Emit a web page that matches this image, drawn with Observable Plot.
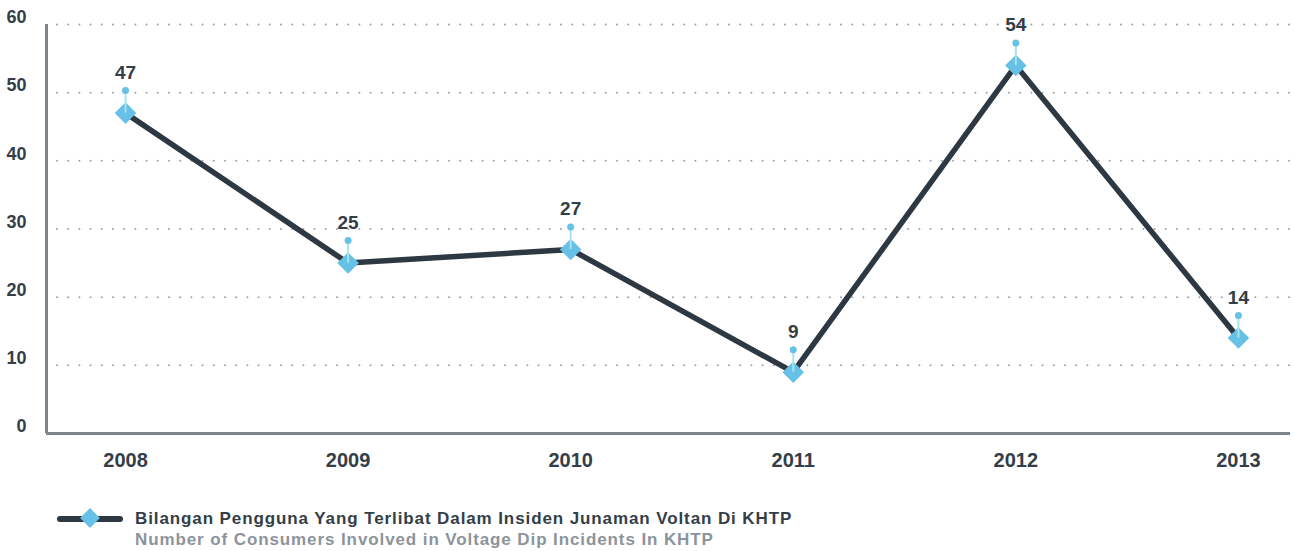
<!DOCTYPE html>
<html>
<head>
<meta charset="utf-8">
<script src="https://cdn.jsdelivr.net/npm/d3@7"></script>
<script src="https://cdn.jsdelivr.net/npm/@observablehq/plot@0.6"></script>
<style>
  body { margin: 0; background: #fff; font-family: "Liberation Sans", Arial, sans-serif; }
  #chart svg { display: block; }
  #legend { position: relative; height: 71px; }
  .lg-line { position: absolute; left: 57px; top: 36px; width: 66px; height: 6px; background: #2e3842; border-radius: 3px; }
  .lg-diamond { position: absolute; left: 83px; top: 31px; width: 14px; height: 14px; background: #67c0e6; transform: rotate(45deg); }
  .lg-t1 { position: absolute; left: 135px; top: 29px; font-size: 17px; line-height: 20px; letter-spacing: 0.9px; font-weight: bold; color: #333e48; white-space: nowrap; }
  .lg-t2 { position: absolute; left: 135px; top: 50px; font-size: 17px; line-height: 20px; letter-spacing: 0.9px; font-weight: bold; color: #8c949b; white-space: nowrap; }
</style>
</head>
<body>
<div id="chart"></div>
<div id="legend">
  <div class="lg-line"></div>
  <div class="lg-diamond"></div>
  <div class="lg-t1" id="t1"></div>
  <div class="lg-t2" id="t2"></div>
</div>
<script>
const years = [2008, 2009, 2010, 2011, 2012, 2013];
const values = [47, 25, 27, 9, 54, 14];
const yTicks = [0, 10, 20, 30, 40, 50, 60];
const gridTicks = [10, 20, 30, 40, 50, 60];
const seriesMalay = "Bilangan Pengguna Yang Terlibat Dalam Insiden Junaman Voltan Di KHTP";
const seriesEnglish = "Number of Consumers Involved in Voltage Dip Incidents In KHTP";

const data = years.map((y, i) => ({year: y, value: values[i]}));
const xMin = 2007.645, xMax = 2013.234;
const stemLen = 3.3;
const font = "'Liberation Sans', Arial, sans-serif";

const chart = Plot.plot({
  width: 1295,
  height: 480,
  marginLeft: 46,
  marginRight: 5,
  marginTop: 24,
  marginBottom: 47,
  style: {fontFamily: font, background: "#fff"},
  x: {domain: [xMin, xMax], axis: null},
  y: {domain: [0, 60], axis: null},
  marks: [
    Plot.ruleY(gridTicks, {stroke: "#9aa1a7", strokeWidth: 2, strokeLinecap: "round", strokeDasharray: "0,11.2", strokeDashoffset: -11}),
    Plot.ruleX([xMin], {y1: 0, y2: 60, stroke: "#7d858c", strokeWidth: 3}),
    Plot.ruleY([0], {stroke: "#7d858c", strokeWidth: 3}),
    Plot.text(yTicks, {x: xMin, y: d => d, text: d => String(d), textAnchor: "end", dx: -20, dy: -7, fontSize: 18, fontWeight: "bold", fill: "#333e48", fontFamily: font}),
    Plot.text(years, {x: d => d, y: 0, text: d => String(d), dy: 27, fontSize: 20, fontWeight: "bold", fill: "#333e48", fontFamily: font}),
    Plot.line(data, {x: "year", y: "value", stroke: "#2e3842", strokeWidth: 5.5}),
    Plot.dot(data, {x: "year", y: "value", symbol: "diamond2", r: 9.7, fill: "#67c0e6", stroke: "none"}),
    Plot.ruleX(data, {x: "year", y1: "value", y2: d => d.value + stemLen, stroke: "#a8e4ef", strokeWidth: 2}),
    Plot.dot(data, {x: "year", y: d => d.value + stemLen, r: 3.5, fill: "#67c0e6", stroke: "none"}),
    Plot.text(data, {x: "year", y: d => d.value + stemLen, text: d => String(d.value), dy: -18, fontSize: 19, fontWeight: "bold", fill: "#333e48", fontFamily: font})
  ]
});
document.getElementById("chart").appendChild(chart);
document.getElementById("t1").textContent = seriesMalay;
document.getElementById("t2").textContent = seriesEnglish;
</script>
</body>
</html>
